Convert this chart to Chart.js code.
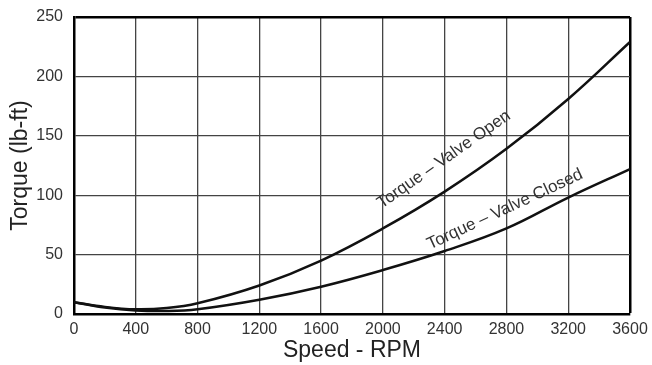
<!DOCTYPE html>
<html>
<head>
<meta charset="utf-8">
<script src="https://cdn.jsdelivr.net/npm/chart.js@4"></script>
<style>
  html, body { margin: 0; padding: 0; background: #fff; }
  #wrap { width: 652px; height: 365px; }
</style>
</head>
<body>
<div id="wrap"><canvas id="canvas_torque"></canvas></div>
<script>
// speed (rpm) and torque (lb-ft)
var speed = [0, 200, 400, 600, 800, 1200, 1600, 2000, 2400, 2800, 3200, 3600];
var torqueOpen = [10, 6, 4, 5, 9, 24, 45, 72, 103, 139, 181, 229];
var torqueClosed = [10, 5.5, 3, 2.5, 4, 12, 23, 37, 53, 72, 98, 122];

var xTicks = [0, 400, 800, 1200, 1600, 2000, 2400, 2800, 3200, 3600];
var yTicks = [0, 50, 100, 150, 200, 250];

// curve labels: text, anchor (data coords), angle in degrees
var curveLabels = [
    { text: 'Torque \u2013 Valve Open', x: 2395, y: 130, angle: -35 },
    { text: 'Torque \u2013 Valve Closed', x: 2790, y: 88, angle: -25 }
];

function toPoints(xs, ys) {
    return xs.map((x, i) => ({ x: x, y: ys[i] }));
}

const FONT = 'Liberation Sans, Arial, sans-serif';

const labelPlugin = {
    id: 'curveLabels',
    afterDatasetsDraw(chart) {
        const ctx = chart.ctx;
        const xs = chart.scales.x, ys = chart.scales.y;
        ctx.save();
        ctx.font = '17px ' + FONT;
        ctx.fillStyle = '#333';
        ctx.textAlign = 'center';
        ctx.textBaseline = 'middle';
        curveLabels.forEach(l => {
            ctx.save();
            ctx.translate(xs.getPixelForValue(l.x), ys.getPixelForValue(l.y));
            ctx.rotate(l.angle * Math.PI / 180);
            ctx.fillText(l.text, 0, 0);
            ctx.restore();
        });
        ctx.restore();
    }
};

const ctx = document.getElementById('canvas_torque').getContext('2d');
var chart1 = new Chart(ctx, {
    type: 'line',
    data: {
        datasets: [
            {
                label: 'Torque - Valve Open',
                data: toPoints(speed, torqueOpen),
                borderColor: '#111',
                borderWidth: 2.5,
                pointRadius: 0,
                tension: 0.4,
                fill: false
            },
            {
                label: 'Torque - Valve Closed',
                data: toPoints(speed, torqueClosed),
                borderColor: '#111',
                borderWidth: 2.5,
                pointRadius: 0,
                tension: 0.4,
                fill: false
            }
        ]
    },
    options: {
        responsive: true,
        maintainAspectRatio: false,
        animation: false,
        layout: { padding: { top: 17, right: 22, left: 0, bottom: 0 } },
        plugins: {
            legend: { display: false },
            tooltip: { enabled: false }
        },
        scales: {
            x: {
                type: 'linear',
                min: 0,
                max: 3600,
                afterBuildTicks: s => { s.ticks = xTicks.map(v => ({ value: v })); },
                afterFit: s => { s.height = 51; s.paddingLeft = 0; s.paddingRight = 0; },
                ticks: {
                    color: '#333',
                    font: { family: FONT, size: 16 },
                    padding: 6,
                    maxRotation: 0,
                    callback: v => String(v)
                },
                grid: {
                    drawTicks: false,
                    color: c => c.tick && c.tick.value === 3600 ? '#000' : '#444',
                    lineWidth: c => c.tick && c.tick.value === 3600 ? 2.5 : 1.3
                },
                border: { color: '#000', width: 2.5 },
                title: {
                    display: true,
                    text: 'Speed - RPM',
                    color: '#222',
                    font: { family: FONT, size: 23 },
                    padding: { top: 1, bottom: 1 }
                }
            },
            y: {
                min: 0,
                max: 250,
                afterBuildTicks: s => { s.ticks = yTicks.map(v => ({ value: v })); },
                afterFit: s => { s.width = 74; s.paddingTop = 0; s.paddingBottom = 0; },
                ticks: {
                    color: '#333',
                    font: { family: FONT, size: 16 },
                    padding: 11,
                    callback: v => String(v)
                },
                grid: {
                    drawTicks: false,
                    color: c => c.tick && c.tick.value === 250 ? '#000' : '#444',
                    lineWidth: c => c.tick && c.tick.value === 250 ? 2.5 : 1.3
                },
                border: { color: '#000', width: 2.5 },
                title: {
                    display: true,
                    text: 'Torque (lb-ft)',
                    color: '#222',
                    font: { family: FONT, size: 23 },
                    padding: { top: 7, bottom: 7 }
                }
            }
        }
    },
    plugins: [labelPlugin]
});
</script>
</body>
</html>
